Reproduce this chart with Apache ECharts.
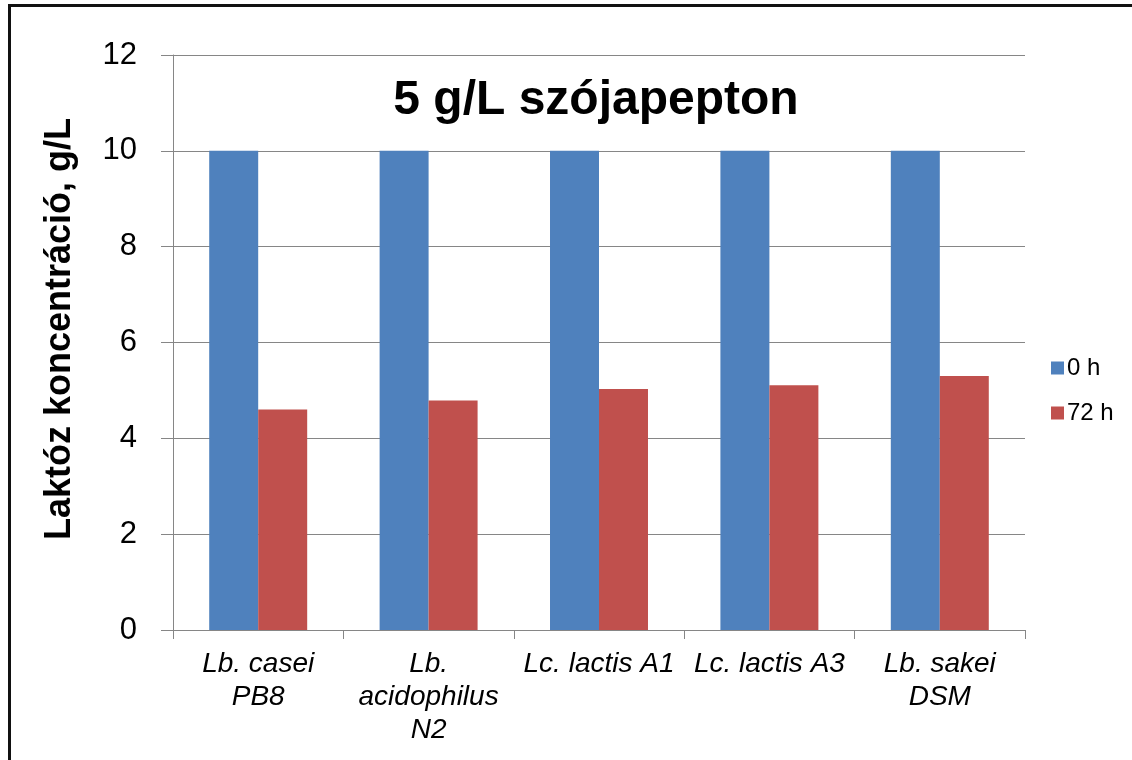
<!DOCTYPE html>
<html>
<head>
<meta charset="utf-8">
<script src="https://cdn.jsdelivr.net/npm/echarts@6/dist/echarts.min.js"></script>
<style>
  html, body { margin: 0; padding: 0; background: #fff; overflow: hidden; }
  #frame { position: absolute; left: 8px; top: 4px; width: 1200px; height: 800px; border-left: 3px solid #111; border-top: 3px solid #111; box-sizing: border-box; }
  #chart { position: absolute; left: 0; top: 0; width: 1132px; height: 760px; }
</style>
</head>
<body>
<div id="frame"></div>
<div id="chart"></div>
<script>
const categories = ['Lb. casei\nPB8', 'Lb.\nacidophilus\nN2', 'Lc. lactis A1', 'Lc. lactis A3', 'Lb. sakei\nDSM'];
const seriesNames = ['0 h', '72 h'];
const values0h = [10, 10, 10, 10, 10];
const values72h = [4.6, 4.79, 5.03, 5.11, 5.3];
const chartTitle = '5 g/L szójapepton';
const yAxisTitle = 'Laktóz koncentráció, g/L';

const FONT = 'Liberation Sans, Arial, sans-serif';
const chart = echarts.init(document.getElementById('chart'), null, { renderer: 'canvas' });
chart.setOption({
  backgroundColor: 'transparent',
  animation: false,
  title: {
    text: chartTitle,
    left: 591, top: 72, textAlign: 'center',
    textStyle: { fontFamily: FONT, fontWeight: 'bold', fontSize: 48, color: '#000' }
  },
  graphic: [{
    type: 'text', x: 60, y: 329, rotation: Math.PI / 2,
    style: { text: yAxisTitle, fill: '#000', font: 'bold 36px ' + FONT, textAlign: 'center', textVerticalAlign: 'middle' }
  }],
  legend: {
    orient: 'vertical', left: 1046, top: 351,
    itemWidth: 13, itemHeight: 13, itemGap: 21, icon: 'rect',
    textStyle: { fontFamily: FONT, fontSize: 24, color: '#000', padding: [0, 0, 0, -2] },
    data: seriesNames
  },
  grid: { left: 173, right: 107, top: 55, bottom: 130, containLabel: false },
  xAxis: {
    type: 'category', data: categories,
    axisLine: { show: true, lineStyle: { color: '#868686', width: 1 } },
    axisTick: { show: true, length: 9, alignWithLabel: false, lineStyle: { color: '#868686' } },
    axisLabel: { interval: 0, margin: 18, fontFamily: FONT, fontStyle: 'italic', fontSize: 28, lineHeight: 33, color: '#000' },
    splitLine: { show: false }
  },
  yAxis: {
    type: 'value', min: 0, max: 12, interval: 2,
    axisLine: { show: true, lineStyle: { color: '#868686', width: 1 } },
    axisTick: { show: true, length: 12, lineStyle: { color: '#868686' } },
    axisLabel: { margin: 36, fontFamily: FONT, fontSize: 31, color: '#000' },
    splitLine: { show: true, lineStyle: { color: '#868686', width: 1 } }
  },
  series: [
    { name: seriesNames[0], type: 'bar', data: values0h, barGap: '0%', barCategoryGap: '42.5%',
      itemStyle: { color: '#4F81BD' } },
    { name: seriesNames[1], type: 'bar', data: values72h, barGap: '0%', barCategoryGap: '42.5%',
      itemStyle: { color: '#C0504D' } }
  ]
});
</script>
</body>
</html>
